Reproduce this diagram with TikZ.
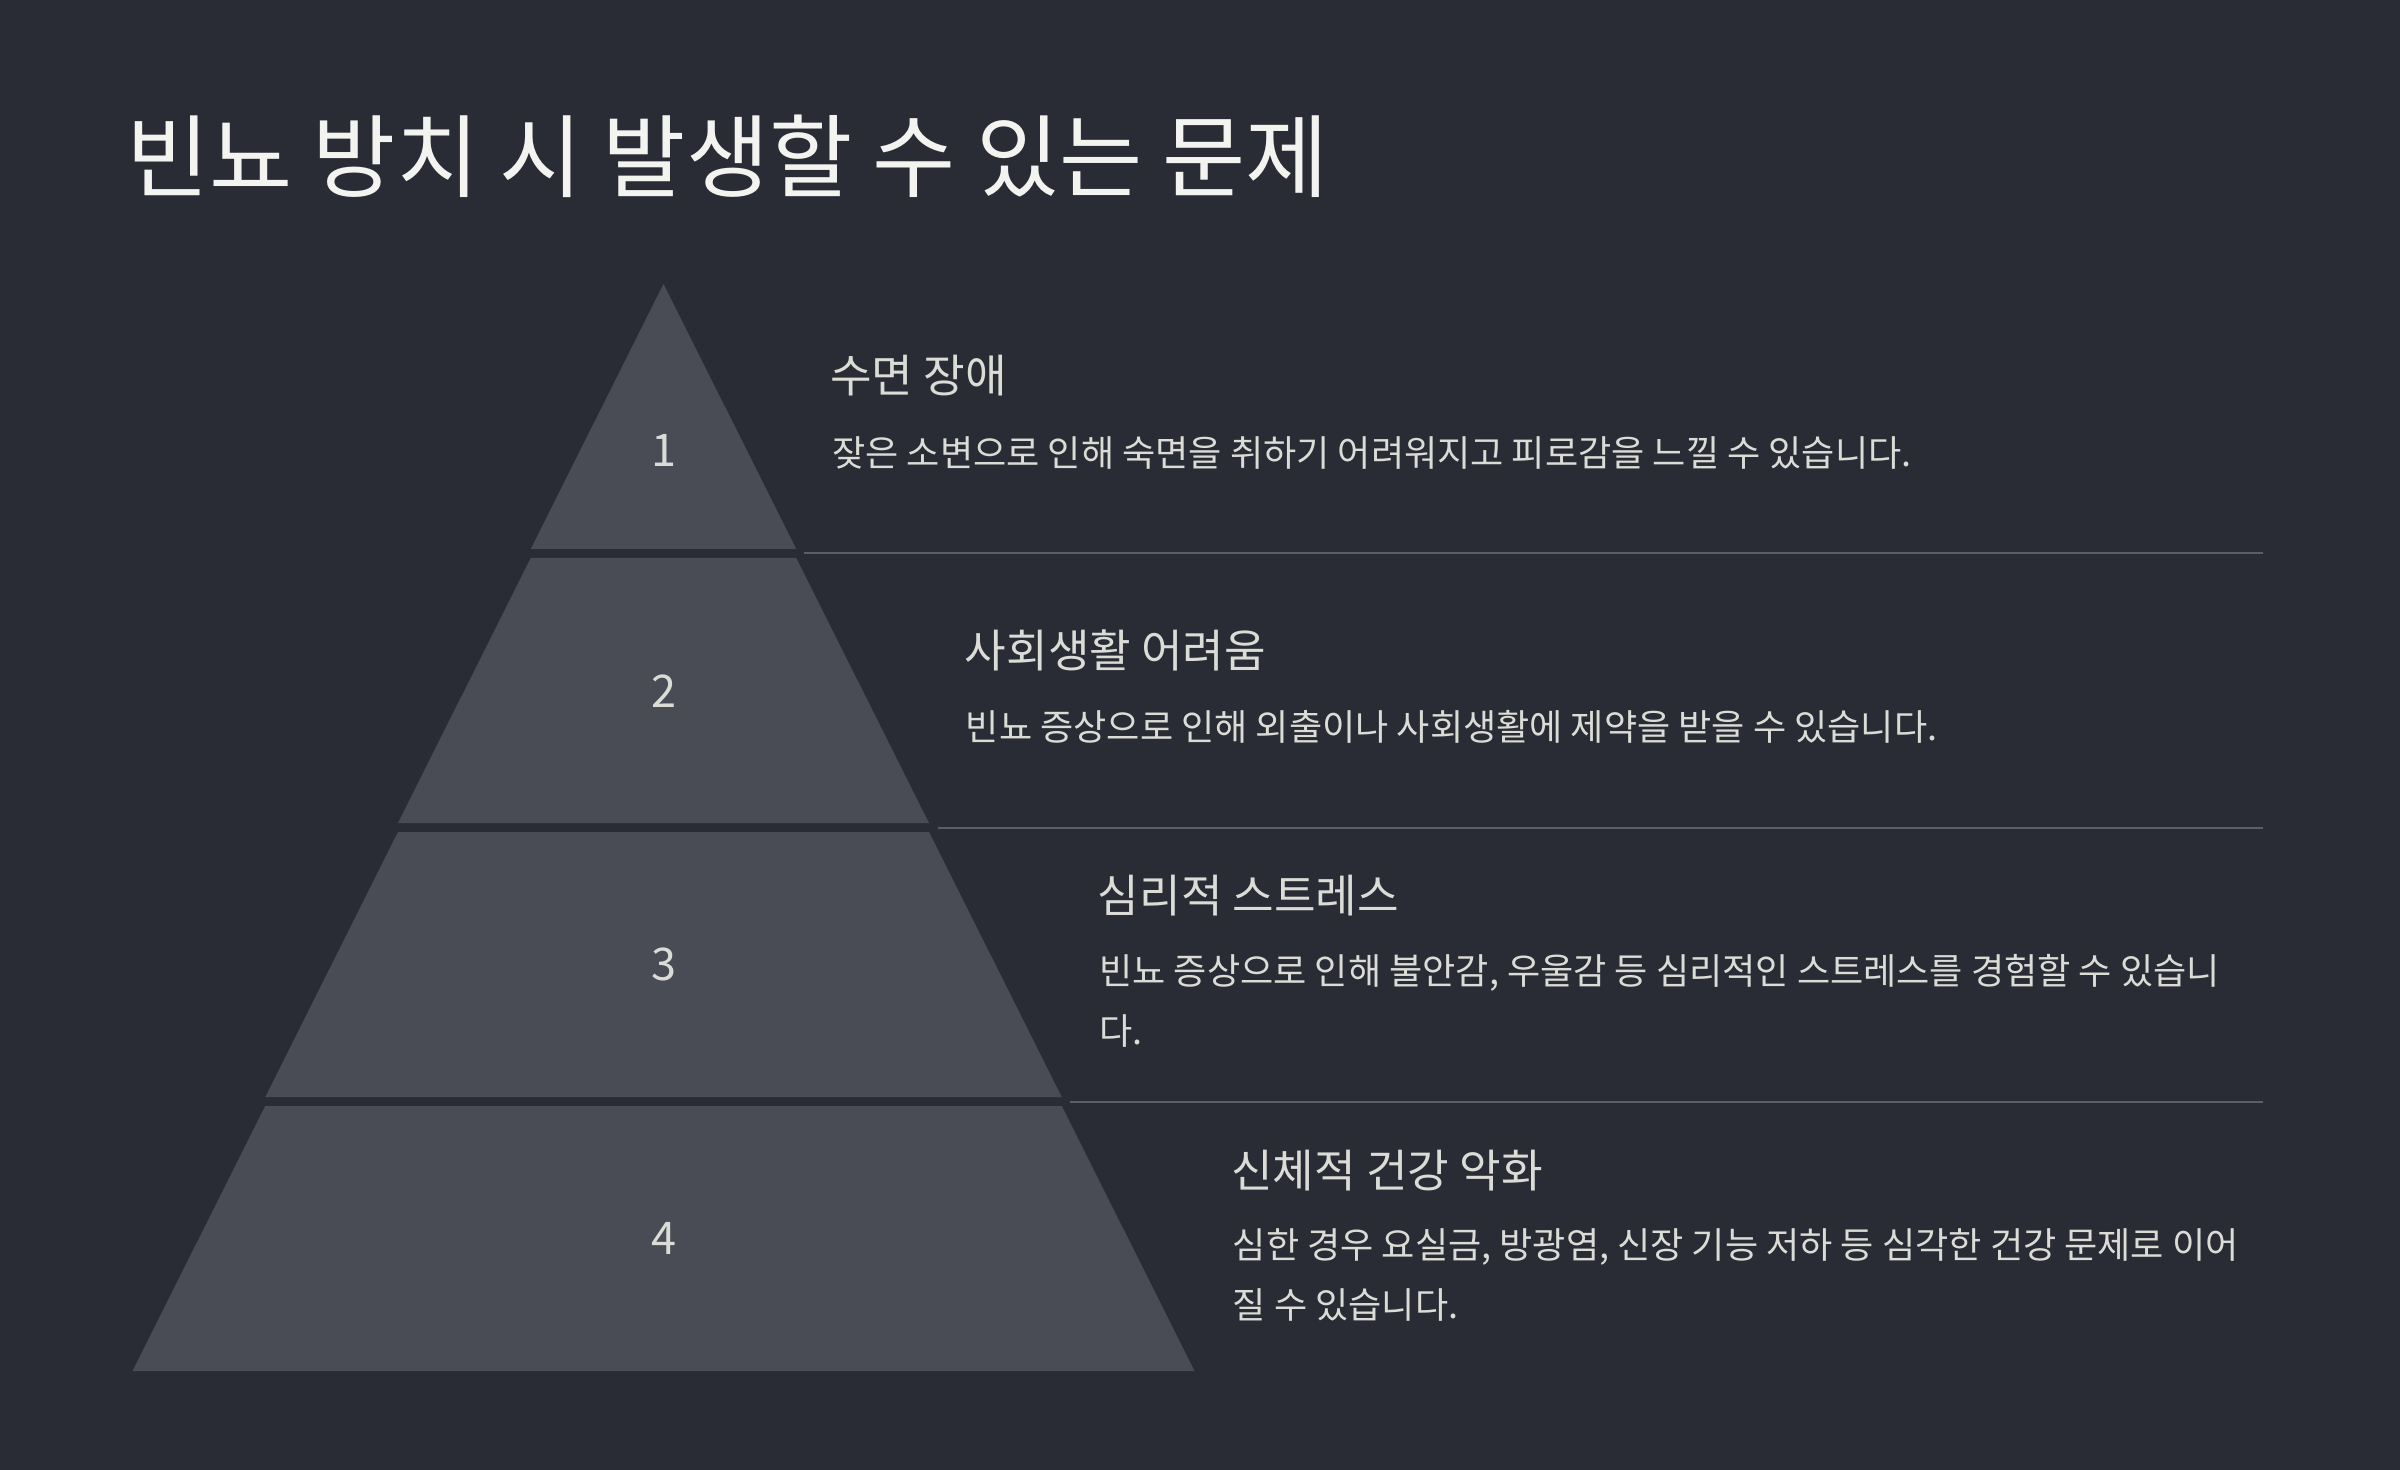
\documentclass[tikz,border=0pt]{standalone}
\usepackage{fontspec}
\setmainfont{Noto Sans CJK KR}
\definecolor{bgc}{HTML}{292C34}
\definecolor{lvl}{HTML}{494C55}
\definecolor{txt}{HTML}{DCDCD7}
\definecolor{ttl}{HTML}{F3F3F0}
\definecolor{rule}{HTML}{5B5E67}
\tikzset{
  lvlfill/.style={fill=lvl},
  numtxt/.style={text=txt, inner sep=0pt, anchor=center, font=\fontsize{22.5pt}{27pt}\selectfont},
  headtxt/.style={text=txt, inner sep=0pt, anchor=west, font=\fontsize{22.6pt}{26pt}\selectfont},
  desctxt/.style={text=txt, inner sep=0pt, anchor=west, font=\fontsize{18.05pt}{29pt}\selectfont},
  maintxt/.style={text=ttl, inner sep=0pt, anchor=west, font=\fontsize{45.2pt}{52pt}\selectfont},
  sepline/.style={draw=rule, line width=1pt}
}
\begin{document}
\begin{tikzpicture}[x=0.5pt,y=-0.5pt]
\useasboundingbox (0,0) rectangle (2400,1470);
\fill[bgc] (0,0) rectangle (2400,1470);
% pyramid levels
\fill[lvlfill] (663.5,284) -- (796.25,549) -- (530.75,549) -- cycle;
\fill[lvlfill] (530.75,558) -- (796.25,558) -- (929,823) -- (398,823) -- cycle;
\fill[lvlfill] (398,832) -- (929,832) -- (1061.75,1097) -- (265.25,1097) -- cycle;
\fill[lvlfill] (265.25,1106) -- (1061.75,1106) -- (1194.5,1371) -- (132.5,1371) -- cycle;
% separator lines
\coordinate (s1a) at (803.5,553.5);  \coordinate (s1b) at (2263,553.5);
\coordinate (s2a) at (937.5,827.5);  \coordinate (s2b) at (2263,827.5);
\coordinate (s3a) at (1070,1101.5);  \coordinate (s3b) at (2263,1101.5);
\draw[sepline] (s1a) -- (s1b);
\draw[sepline] (s2a) -- (s2b);
\draw[sepline] (s3a) -- (s3b);
% numbers
\node[numtxt] (n1) at (663.5,450) {1};
\node[numtxt] (n2) at (663.5,691) {2};
\node[numtxt] (n3) at (663.5,964) {3};
\node[numtxt] (n4) at (663.5,1238.5) {4};
% title
\node[maintxt] (title) at (126,156) {빈뇨 방치 시 발생할 수 있는 문제};
% texts
\node[headtxt] (t1) at (830,375.5) {수면 장애};
\node[desctxt] (d1) at (832,453) {잦은 소변으로 인해 숙면을 취하기 어려워지고 피로감을 느낄 수 있습니다.};
\node[headtxt] (t2) at (964.5,650) {사회생활 어려움};
\node[desctxt] (d2) at (965.5,726.7) {빈뇨 증상으로 인해 외출이나 사회생활에 제약을 받을 수 있습니다.};
\node[headtxt] (t3) at (1097.5,896) {심리적 스트레스};
\node[desctxt] (d3a) at (1099,973) {빈뇨 증상으로 인해 불안감, 우울감 등 심리적인 스트레스를 경험할 수 있습니};
\node[desctxt] (d3b) at (1099,1031) {다.};
\node[headtxt] (t4) at (1231,1171) {신체적 건강 악화};
\node[desctxt] (d4a) at (1232.5,1246.7) {심한 경우 요실금, 방광염, 신장 기능 저하 등 심각한 건강 문제로 이어};
\node[desctxt] (d4b) at (1232.5,1304.7) {질 수 있습니다.};
\end{tikzpicture}
\end{document}
